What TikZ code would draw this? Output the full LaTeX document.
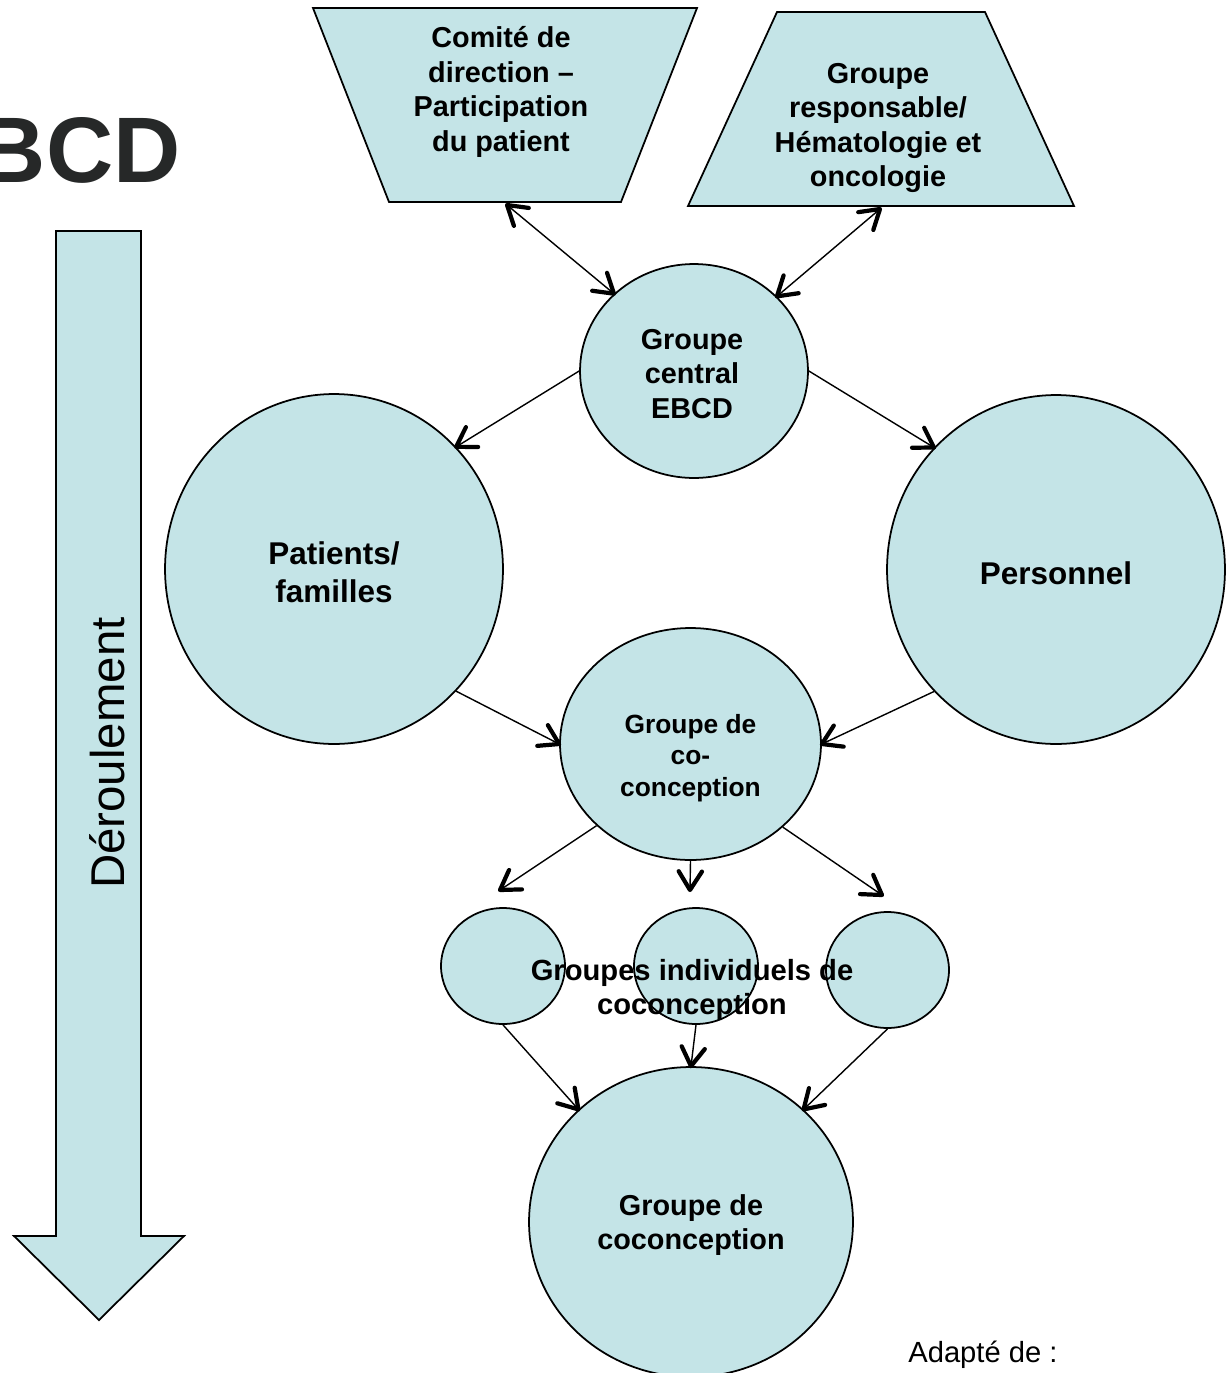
\documentclass[tikz,border=0pt]{standalone}
\usepackage{fontspec}
\setmainfont{Liberation Sans}
\usetikzlibrary{shapes.geometric,calc}
\definecolor{boxfill}{HTML}{C4E4E7}
\definecolor{titlegray}{HTML}{262828}
\newcommand\mychev[2]{\draw[chevline] ($(#2)!12.5pt!32:(#1)$) -- (#2) -- ($(#2)!12.5pt!-32:(#1)$);}
\begin{document}
\begin{tikzpicture}[x=0.02cm,y=-0.02cm,
  shapeline/.style={draw=black,line width=1pt,fill=boxfill},
  blob/.style={shapeline,ellipse,inner sep=0pt},
  lbl/.style={font=\bfseries\fontsize{16.4pt}{19.6pt}\selectfont,align=center,inner sep=0pt},
  chevline/.style={line width=2.4pt,line cap=round,line join=round},
  conn/.style={line width=0.8pt},
]
\useasboundingbox (0,0) rectangle (1230,1373);

% big progress arrow
\draw[shapeline,line join=miter] (56,231) -- (141,231) -- (141,1236) -- (184,1236) -- (99,1320) -- (14,1236) -- (56,1236) -- cycle;
\node[rotate=90,font=\fontsize{27pt}{30pt}\selectfont,inner sep=0pt] (deroul) at (107,753) {Déroulement};

% title
\node[anchor=base east,font=\bfseries\fontsize{53pt}{60pt}\selectfont,text=titlegray,inner sep=0pt] (title) at (181,182) {BCD};

% trapezoids
\draw[shapeline] (313,8) -- (697,8) -- (621,202) -- (389,202) -- cycle;
\node[lbl] (comite) at (501,92) {Comité de\\direction –\\Participation\\du patient};
\coordinate (comiteB) at (507,205);
\draw[shapeline] (777,12) -- (985,12) -- (1074,206) -- (688,206) -- cycle;
\node[lbl] (resp) at (878,128) {Groupe\\responsable/\\Hématologie et\\oncologie};
\coordinate (respB) at (880,209);

% ellipses
\node[blob,minimum width=4.56cm,minimum height=4.28cm] (central) at (694,371) {};
\node[lbl] (centraltxt) at (692,374) {Groupe\\central\\EBCD};
\node[blob,minimum width=6.76cm,minimum height=7.0cm] (patients) at (334,569) {};
\node[lbl,font=\bfseries\fontsize{17.9pt}{21.5pt}\selectfont] (patientstxt) at (334,572) {Patients/\\familles};
\node[blob,minimum width=6.76cm,minimum height=6.98cm] (personnel) at (1056,569.5) {};
\node[lbl,font=\bfseries\fontsize{17.9pt}{21.5pt}\selectfont] (personneltxt) at (1056,573) {Personnel};
\node[blob,minimum width=5.22cm,minimum height=4.64cm] (co) at (690.5,744) {};
\node[lbl,font=\bfseries\fontsize{15pt}{18.1pt}\selectfont] (cotxt) at (690.5,758) {Groupe de\\co-\\conception};

\node[blob,minimum width=2.48cm,minimum height=2.32cm] (g1) at (503,966) {};
\node[blob,minimum width=2.48cm,minimum height=2.32cm] (g2) at (696,966) {};
\node[blob,minimum width=2.46cm,minimum height=2.32cm] (g3) at (887.5,970) {};
\node[lbl,font=\bfseries\fontsize{16.6pt}{19.8pt}\selectfont] (gtxt) at (692,990) {Groupes individuels de\\coconception};

\node[blob,minimum width=6.48cm,minimum height=6.2cm] (bottom) at (691,1222) {};
\node[lbl] (bottomtxt) at (691,1225) {Groupe de\\coconception};

% connectors
\coordinate (f1) at (500,890);
\coordinate (f2) at (690,890);
\coordinate (f3) at (882,895);
\draw[conn] (comiteB) -- (central.136.5);
\mychev{comiteB}{central.136.5}
\mychev{central.136.5}{comiteB}
\draw[conn] (respB) -- (central.42);
\mychev{respB}{central.42}
\mychev{central.42}{respB}
\draw[conn] (central.west) -- (patients.45);
\mychev{central.west}{patients.45}
\draw[conn] (central.east) -- (personnel.135);
\mychev{central.east}{personnel.135}
\draw[conn] (patients.-45) -- (co.west);
\mychev{patients.-45}{co.west}
\draw[conn] (personnel.225) -- (co.east);
\mychev{personnel.225}{co.east}
\draw[conn] (co.221.6) -- (f1);
\mychev{co.221.6}{f1}
\draw[conn] (co.south) -- (f2);
\mychev{co.south}{f2}
\draw[conn] (co.318.8) -- (f3);
\mychev{co.318.8}{f3}
\draw[conn] (g1.south) -- (bottom.135);
\mychev{g1.south}{bottom.135}
\draw[conn] (g2.south) -- (bottom.north);
\mychev{g2.south}{bottom.north}
\draw[conn] (g3.south) -- (bottom.45);
\mychev{g3.south}{bottom.45}

\node[anchor=base west,font=\fontsize{16.6pt}{20pt}\selectfont,inner sep=0pt] (adapte) at (908,1362) {Adapté de :};
\end{tikzpicture}
\end{document}
